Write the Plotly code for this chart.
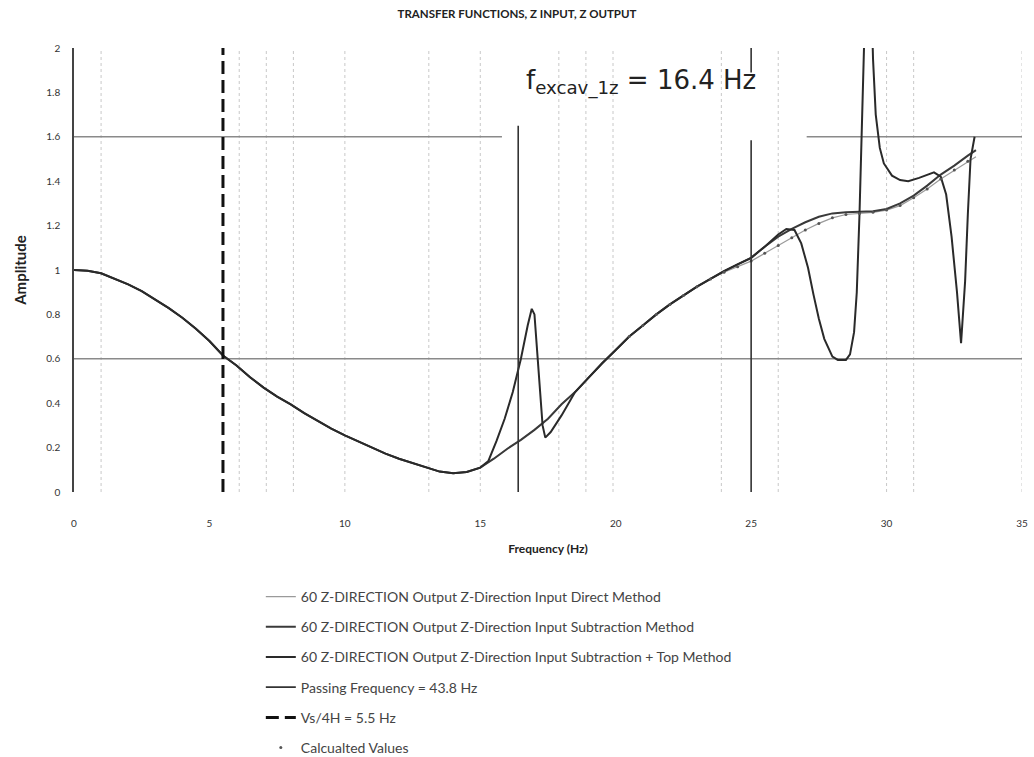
import plotly.graph_objects as go

# ---------------- data ----------------
freq_main = [0, 0.5, 1, 1.5, 2, 2.5, 3, 3.5, 4, 4.5, 5, 5.5, 6, 6.5, 7, 7.5, 8, 8.5, 9, 9.5,
             10, 10.5, 11, 11.5, 12, 12.5, 13, 13.5, 14, 14.5, 15, 15.5, 16, 16.5, 17, 17.5,
             18, 18.5, 19, 19.5, 20, 20.5, 21, 21.5, 22, 22.5, 23, 23.5, 24, 24.5, 25, 25.5,
             26, 26.5, 27, 27.5, 28, 28.5, 29, 29.5, 30, 30.5, 31, 31.5, 32, 32.5, 33, 33.3]

amp_subtraction = [1.000, 0.997, 0.985, 0.960, 0.935, 0.905, 0.868, 0.828, 0.785, 0.735,
                   0.680, 0.615, 0.570, 0.517, 0.470, 0.430, 0.395, 0.355, 0.320, 0.285,
                   0.255, 0.228, 0.200, 0.173, 0.150, 0.130, 0.110, 0.092, 0.085, 0.090,
                   0.110, 0.150, 0.195, 0.235, 0.280, 0.330, 0.395, 0.450, 0.515, 0.580,
                   0.640, 0.700, 0.750, 0.800, 0.845, 0.885, 0.925, 0.960, 0.995, 1.025,
                   1.055, 1.105, 1.150, 1.185, 1.215, 1.240, 1.255, 1.260, 1.262, 1.265,
                   1.275, 1.300, 1.335, 1.380, 1.430, 1.470, 1.515, 1.540]

amp_direct = [1.000, 0.997, 0.985, 0.960, 0.935, 0.905, 0.868, 0.828, 0.785, 0.735,
              0.680, 0.615, 0.570, 0.517, 0.470, 0.430, 0.395, 0.355, 0.320, 0.285,
              0.255, 0.228, 0.200, 0.173, 0.150, 0.130, 0.110, 0.092, 0.085, 0.090,
              0.110, 0.150, 0.195, 0.235, 0.280, 0.330, 0.395, 0.450, 0.515, 0.580,
              0.640, 0.700, 0.750, 0.800, 0.845, 0.885, 0.925, 0.960, 0.990, 1.015,
              1.040, 1.075, 1.110, 1.145, 1.180, 1.210, 1.235, 1.250, 1.255, 1.260,
              1.270, 1.290, 1.325, 1.365, 1.410, 1.450, 1.490, 1.510]

freq_top = [0, 0.5, 1, 1.5, 2, 2.5, 3, 3.5, 4, 4.5, 5, 5.5, 6, 6.5, 7, 7.5, 8, 8.5, 9, 9.5,
            10, 10.5, 11, 11.5, 12, 12.5, 13, 13.5, 14, 14.5, 15, 15.3, 15.6, 15.9, 16.2,
            16.5, 16.75, 16.9, 17.0, 17.15, 17.3, 17.4, 17.6, 18.0, 18.5, 19, 19.5, 20, 20.5,
            21, 21.5, 22, 22.5, 23, 23.5, 24, 24.5, 25, 25.5, 26, 26.3, 26.6, 26.85, 27.1,
            27.3, 27.5, 27.7, 27.9, 28.0, 28.2, 28.5, 28.65, 28.8, 28.9, 29.0, 29.1, 29.2,
            29.3, 29.4, 29.5, 29.6, 29.75, 29.9, 30.2, 30.5, 30.8, 31.2, 31.5, 31.75, 32.0,
            32.2, 32.4, 32.6, 32.75, 32.9, 33.0, 33.1, 33.25]

amp_top = [1.000, 0.997, 0.985, 0.960, 0.935, 0.905, 0.868, 0.828, 0.785, 0.735,
           0.680, 0.615, 0.570, 0.517, 0.470, 0.430, 0.395, 0.355, 0.320, 0.285,
           0.255, 0.228, 0.200, 0.173, 0.150, 0.130, 0.110, 0.092, 0.085, 0.090,
           0.110, 0.140, 0.230, 0.330, 0.450, 0.600, 0.750, 0.825, 0.800, 0.550,
           0.300, 0.245, 0.270, 0.345, 0.450, 0.515, 0.580, 0.640, 0.700,
           0.750, 0.800, 0.845, 0.885, 0.925, 0.960, 0.995, 1.025, 1.055, 1.105, 1.160,
           1.185, 1.180, 1.120, 1.010, 0.890, 0.780, 0.690, 0.635, 0.610, 0.595, 0.595,
           0.620, 0.720, 0.900, 1.250, 1.700, 2.200, 2.600, 2.400, 1.950, 1.700, 1.550,
           1.480, 1.425, 1.405, 1.400, 1.415, 1.430, 1.440, 1.420, 1.340, 1.150, 0.900,
           0.670, 0.950, 1.250, 1.500, 1.600]

calc_freq = [20.5, 21, 21.5, 22, 22.5, 23, 23.5, 24, 24.5, 25, 25.5, 26, 26.5, 27, 27.5,
             28, 28.5, 29, 29.5, 30, 30.5, 31, 31.5, 32, 32.5, 33]
calc_amp = [0.700, 0.750, 0.800, 0.845, 0.885, 0.925, 0.960, 0.990, 1.015, 1.040, 1.075,
            1.110, 1.145, 1.180, 1.210, 1.235, 1.250, 1.255, 1.260, 1.270, 1.290, 1.325,
            1.365, 1.410, 1.450, 1.490]

vs4h_freq = 5.5
passing_freq = 43.8
excav_freq = 16.4
other_vline = 25.0
ref_levels = [0.6, 1.6]
faint_grid_freqs = [1, 6.1, 7.1, 8.1, 10, 13.1, 15, 17.9, 18.9, 19.9, 23.9, 26.0, 30.0, 31.0, 35]

x_ticks = [0, 5, 10, 15, 20, 25, 30, 35]
y_ticks = [0, 0.2, 0.4, 0.6, 0.8, 1, 1.2, 1.4, 1.6, 1.8, 2]
y_tick_text = ["0", "0.2", "0.4", "0.6", "0.8", "1", "1.2", "1.4", "1.6", "1.8", "2"]

# ---------------- figure ----------------
FONT = "Lato"
fig = go.Figure()

fig.add_trace(go.Scatter(x=freq_main, y=amp_direct, mode="lines",
                         line=dict(color="#9a9a9a", width=1.2),
                         name="60 Z-DIRECTION Output Z-Direction Input Direct Method",
                         legendgroup="a"))
fig.add_trace(go.Scatter(x=freq_main, y=amp_subtraction, mode="lines",
                         line=dict(color="#3a3a3a", width=2),
                         name="60 Z-DIRECTION Output Z-Direction Input Subtraction Method",
                         legendgroup="b"))
fig.add_trace(go.Scatter(x=freq_top, y=amp_top, mode="lines",
                         line=dict(color="#2a2a2a", width=2),
                         name="60 Z-DIRECTION Output Z-Direction Input Subtraction + Top Method",
                         legendgroup="c"))
fig.add_trace(go.Scatter(x=[passing_freq, passing_freq], y=[0, 2], mode="lines",
                         line=dict(color="#333333", width=1.8),
                         name="Passing Frequency = 43.8 Hz", legendgroup="d"))
fig.add_trace(go.Scatter(x=[vs4h_freq, vs4h_freq], y=[0, 2], mode="lines",
                         line=dict(color="#111111", width=3, dash="13px,6px"),
                         name="Vs/4H = 5.5 Hz", legendgroup="e"))
fig.add_trace(go.Scatter(x=calc_freq, y=calc_amp, mode="markers",
                         marker=dict(color="#555555", size=3),
                         name="Calcualted Values", legendgroup="f"))

shapes = []
for fx in faint_grid_freqs:
    shapes.append(dict(type="line", xref="x", yref="y", x0=fx, x1=fx, y0=0, y1=2,
                       line=dict(color="#c8c8c8", width=1, dash="dot"), layer="below"))
# reference levels (1.6 line interrupted behind the label)
shapes.append(dict(type="line", xref="x", yref="y", x0=0, x1=35, y0=ref_levels[0], y1=ref_levels[0],
                   line=dict(color="#8a8a8a", width=1.5), layer="below"))
shapes.append(dict(type="line", xref="x", yref="y", x0=0, x1=15.8, y0=ref_levels[1], y1=ref_levels[1],
                   line=dict(color="#8a8a8a", width=1.5), layer="below"))
shapes.append(dict(type="line", xref="x", yref="y", x0=27.05, x1=35, y0=ref_levels[1], y1=ref_levels[1],
                   line=dict(color="#8a8a8a", width=1.5), layer="below"))
# excavation frequency line
shapes.append(dict(type="line", xref="x", yref="y", x0=excav_freq, x1=excav_freq, y0=0, y1=1.65,
                   line=dict(color="#333333", width=1.6)))
# 25 Hz line, interrupted behind the label
shapes.append(dict(type="line", xref="x", yref="y", x0=other_vline, x1=other_vline, y0=0, y1=1.585,
                   line=dict(color="#333333", width=1.6)))
shapes.append(dict(type="line", xref="x", yref="y", x0=other_vline, x1=other_vline, y0=1.89, y1=2.0,
                   line=dict(color="#333333", width=1.6)))

fig.update_layout(
    width=1034, height=757,
    margin=dict(l=74, r=6, t=48, b=265),
    paper_bgcolor="white", plot_bgcolor="white",
    font=dict(family=FONT, color="#333333"),
    title=dict(text="<b>TRANSFER FUNCTIONS, Z INPUT, Z OUTPUT</b>",
               x=0.5, xanchor="center", y=1 - 14 / 757, yanchor="middle",
               font=dict(family=FONT, size=11.5, color="#222222")),
    showlegend=True,
    legend=dict(x=(262 - 74) / 954, xref="paper", xanchor="left",
                y=1 - 581 / 757, yref="container", yanchor="top",
                orientation="v", traceorder="grouped", tracegroupgap=9,
                font=dict(family=FONT, size=14, color="#444444"),
                bgcolor="rgba(0,0,0,0)", itemwidth=30),
    shapes=shapes,
    annotations=[dict(text="f<sub>excav_1z</sub> = 16.4 Hz", xref="x", yref="y",
                      x=16.62, y=1.845, xanchor="left", yanchor="middle", showarrow=False,
                      font=dict(family="DejaVu Sans", size=26, color="#222222"))],
)

fig.update_xaxes(range=[0, 35], tickvals=x_ticks, showgrid=False, zeroline=False,
                 showline=False, ticks="outside", ticklen=22, tickcolor="rgba(0,0,0,0)",
                 tickfont=dict(family=FONT, size=10, color="#333333"),
                 title=dict(text="<b>Frequency (Hz)</b>", standoff=16,
                            font=dict(family=FONT, size=12, color="#222222")))
fig.update_yaxes(range=[0, 2], tickvals=y_ticks, ticktext=y_tick_text, showgrid=False,
                 zeroline=False, showline=True, linecolor="#444444", linewidth=1.5,
                 ticks="outside", ticklen=10, tickcolor="rgba(0,0,0,0)",
                 tickfont=dict(family=FONT, size=10, color="#333333"),
                 title=dict(text="<b>Amplitude</b>", standoff=16,
                            font=dict(family=FONT, size=15, color="#222222")))

fig.write_html("out.html")
